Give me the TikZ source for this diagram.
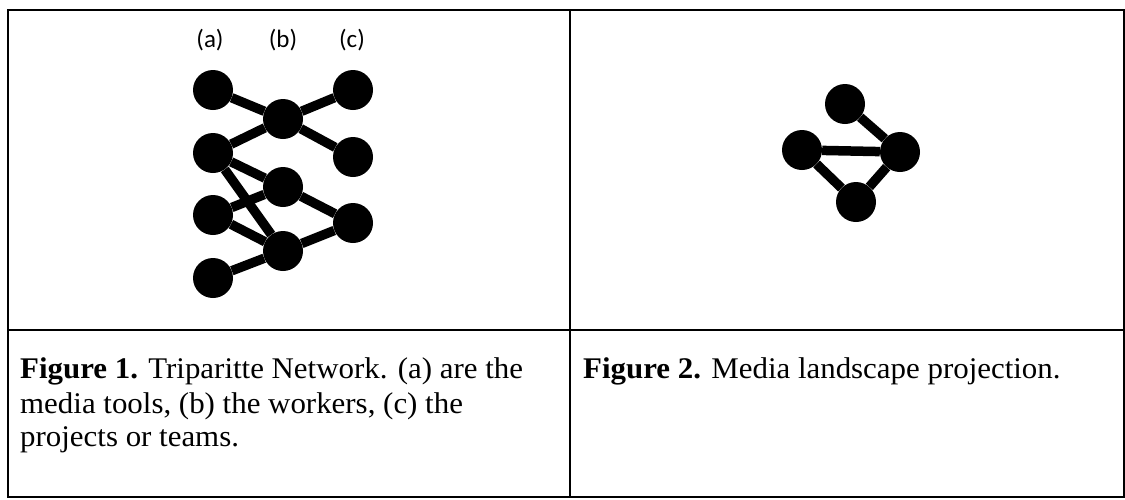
\documentclass[tikz,border=0pt]{standalone}
\usepackage{graphicx}
\usepackage{fontspec}
\setmainfont{Liberation Serif}
\newfontfamily\labelfont{Carlito}
% captions are set a little wider than the font's natural width
\newcommand{\wide}[1]{\scalebox{1.03}[1]{#1}}
\tikzset{
  vtx/.style={circle, fill=black, draw=none, minimum size=40pt, inner sep=0pt},
  lnk/.style={line width=9.5pt, black},
  tablerule/.style={line width=2pt, black},
  captext/.style={anchor=base west, inner sep=0pt, font=\fontsize{30}{35}\selectfont},
  collabel/.style={anchor=center, inner sep=0pt, font=\labelfont\fontsize{25}{27}\selectfont}
}
\begin{document}
\begin{tikzpicture}[x=1pt,y=-1pt]
\useasboundingbox (0,0) rectangle (1125,499);
% table frame
\coordinate (tl) at (7.5,10);
\coordinate (tr) at (1124,10);
\coordinate (bl) at (7.5,497);
\coordinate (br) at (1124,497);
\coordinate (mt) at (570,10);
\coordinate (mb) at (570,497);
\coordinate (ml) at (7.5,330);
\coordinate (mr) at (1124,330);
\draw[tablerule] (tl) -- (tr) -- (br) -- (bl) -- cycle;
\draw[tablerule] (mt) -- (mb);
\draw[tablerule] (ml) -- (mr);

% column labels
\node[collabel] (la) at (210,40) {(a)};
\node[collabel] (lb) at (283,40) {(b)};
\node[collabel] (lc) at (352,40) {(c)};

% tripartite network
\node[vtx] (a1) at (213,90) {};
\node[vtx] (a2) at (213,153) {};
\node[vtx] (a3) at (213,215) {};
\node[vtx] (a4) at (213,278) {};
\node[vtx] (b1) at (283,119) {};
\node[vtx] (b2) at (283,187) {};
\node[vtx] (b3) at (283,251) {};
\node[vtx] (c1) at (353,90) {};
\node[vtx] (c2) at (353,157) {};
\node[vtx] (c3) at (353,223) {};
\draw[lnk] (a1) -- (b1) -- (c1);
\draw[lnk] (a2) -- (b1) -- (c2);
\draw[lnk] (a2) -- (b2) -- (c3);
\draw[lnk] (a3) -- (b2);
\draw[lnk] (a2) -- (b3);
\draw[lnk] (a3) -- (b3) -- (c3);
\draw[lnk] (a4) -- (b3);

% projection
\node[vtx] (p1) at (845,104) {};
\node[vtx] (p2) at (802,150) {};
\node[vtx] (p3) at (900,152) {};
\node[vtx] (p4) at (856,202) {};
\draw[lnk] (p1) -- (p3);
\draw[lnk] (p2) -- (p3);
\draw[lnk] (p2) -- (p4);
\draw[lnk] (p4) -- (p3);

% captions
\node[captext] (f1a) at (20,378) {\wide{\textbf{Figure 1.} Triparitte Network. (a) are the}};
\node[captext] (f1b) at (20,413) {\wide{media tools, (b) the workers, (c) the}};
\node[captext] (f1c) at (20,446) {\wide{projects or teams.}};
\node[captext] (f2a) at (583,378) {\wide{\textbf{Figure 2.} Media landscape projection.}};
\end{tikzpicture}
\end{document}
